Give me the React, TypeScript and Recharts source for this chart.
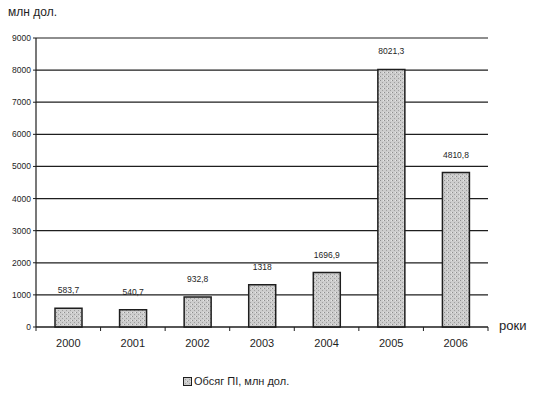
import { BarChart, Bar, XAxis, YAxis, CartesianGrid, LabelList } from "recharts";

const years = ["2000", "2001", "2002", "2003", "2004", "2005", "2006"];
const volumes = [583.7, 540.7, 932.8, 1318, 1696.9, 8021.3, 4810.8];
const yTicks = [0, 1000, 2000, 3000, 4000, 5000, 6000, 7000, 8000, 9000];

const seriesName = "Обсяг ПІ, млн дол.";
const unitLabel = "млн дол.";
const axisLabel = "роки";

const data = years.map((year, i) => ({ year, value: volumes[i] }));

const ink = "#1e1e1e";
const font = "'Liberation Sans', Arial, sans-serif";

const fmt = (v: number) => String(v).replace(".", ",");

function YearTick(props: any) {
  const { x, y, payload, index } = props;
  const half = payload?.offset ?? 32.3;
  return (
    <g>
      <line x1={x + half} y1={y - 8} x2={x + half} y2={y - 4} stroke={ink} strokeWidth={1} />
      {index === 0 && <line x1={x - half} y1={y - 8} x2={x - half} y2={y - 4} stroke={ink} />}
      <text x={x} y={y + 12} textAnchor="middle" fontSize={11} fill={ink} fontFamily={font}>
        {payload.value}
      </text>
    </g>
  );
}

export default function App() {
  return (
    <div style={{ position: "absolute", left: 0, top: 0, width: 535, height: 396, background: "#fff", fontFamily: font }}>
      <div style={{ position: "absolute", left: 8, top: 5, fontSize: 12, color: ink }}>{unitLabel}</div>
      <div style={{ position: "absolute", left: 499, top: 318, fontSize: 13, color: ink }}>{axisLabel}</div>
      <BarChart width={535} height={396} data={data} margin={{ top: 38, right: 47, left: 0, bottom: 39 }}>
        <defs>
          <pattern id="stipple" width={4} height={4} patternUnits="userSpaceOnUse">
            <rect width={4} height={4} fill="#cdcdcd" />
            <rect x={0} y={0} width={1} height={1} fill="#8e8e8e" />
            <rect x={2} y={2} width={1} height={1} fill="#a0a0a0" />
            <rect x={3} y={0} width={1} height={1} fill="#e6e6e6" />
          </pattern>
        </defs>
        <CartesianGrid vertical={false} stroke={ink} strokeWidth={1.2} />
        <XAxis
          dataKey="year"
          height={30}
          axisLine={{ stroke: ink, strokeWidth: 1.2 }}
          tickLine={false}
          interval={0}
          tick={<YearTick />}
        />
        <YAxis
          width={36}
          domain={[0, 9000]}
          ticks={yTicks}
          axisLine={{ stroke: ink, strokeWidth: 1.2 }}
          tickLine={{ stroke: ink }}
          tickSize={3}
          tick={{ fontSize: 8.5, fill: ink, fontFamily: font }}
        />
        <YAxis
          yAxisId="frame"
          orientation="right"
          width={0}
          domain={[0, 9000]}
          ticks={yTicks}
          tick={false}
          tickLine={false}
          axisLine={{ stroke: ink, strokeWidth: 1.2 }}
        />
        <Bar dataKey="value" name={seriesName} barSize={27} fill="url(#stipple)" stroke={ink} strokeWidth={1.5} isAnimationActive={false}>
          <LabelList dataKey="value" position="top" offset={15} formatter={(v: any) => fmt(v)} style={{ fontSize: 8.5, fill: ink, fontFamily: font }} />
        </Bar>
      </BarChart>
      <div style={{ position: "absolute", left: 183, top: 375, display: "flex", alignItems: "center", fontSize: 11, color: ink }}>
        <svg width={9} height={9} style={{ marginRight: 2 }}>
          <rect x={0.5} y={0.5} width={8} height={8} fill="url(#stipple)" stroke={ink} />
        </svg>
        {seriesName}
      </div>
    </div>
  );
}
